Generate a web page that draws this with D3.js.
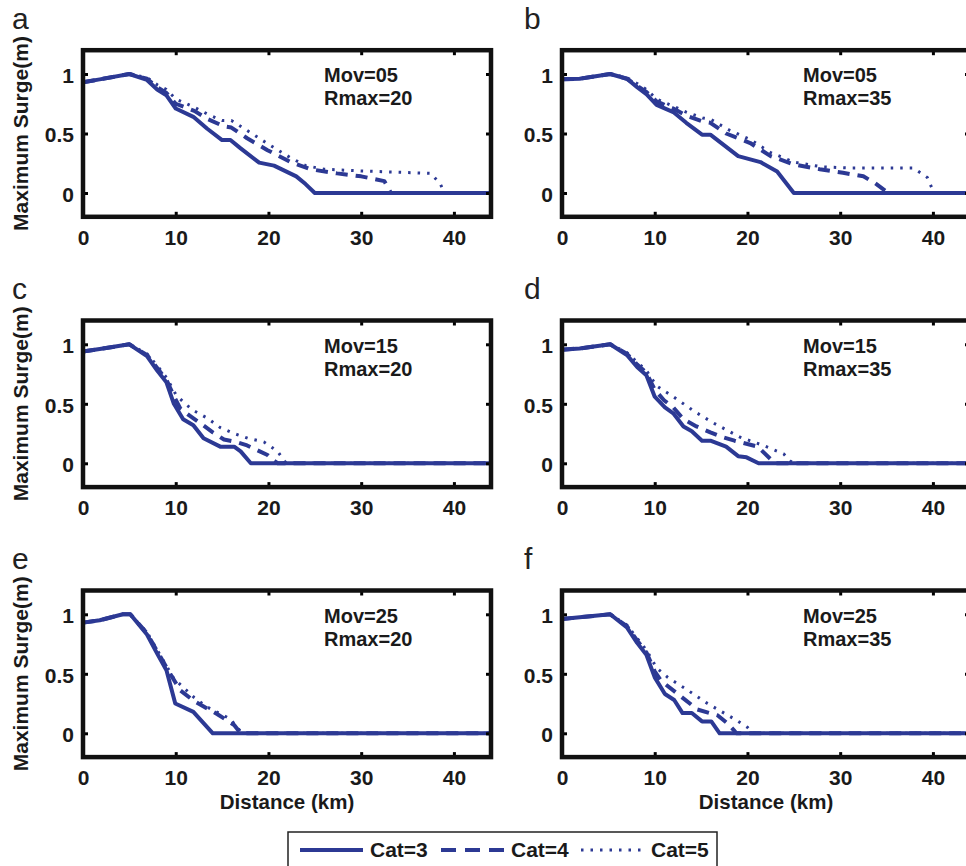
<!DOCTYPE html>
<html>
<head>
<meta charset="utf-8">
<script src="https://cdn.jsdelivr.net/npm/d3@7"></script>
<style>
  html, body { margin: 0; padding: 0; background: #fff; }
  svg { display: block; }
  text { font-family: "Liberation Sans", Arial, Helvetica, sans-serif; }
</style>
</head>
<body>
<svg id="chart" width="966" height="866"></svg>
<script>
// ---------------- DATA ----------------
const panelLetters = ["a", "b", "c", "d", "e", "f"];
const movLabels = ["Mov=05", "Mov=05", "Mov=15", "Mov=15", "Mov=25", "Mov=25"];
const rmaxLabels = ["Rmax=20", "Rmax=35", "Rmax=20", "Rmax=35", "Rmax=20", "Rmax=35"];
const categories = ["Cat=3", "Cat=4", "Cat=5"];
const xTicks = [0, 10, 20, 30, 40];
const yTicks = [0, 0.5, 1];
const yTickLabels = ["0", "0.5", "1"];
const xLabel = "Distance (km)";
const yLabel = "Maximum Surge(m)";

// [distance km, max surge m]
const a_cat3 = [[0,0.93],[1.8,0.955],[5,1.0],[6.9,0.95],[8,0.87],[9,0.82],[10,0.71],[11.9,0.64],[13.4,0.54],[15,0.445],[15.9,0.445],[17,0.375],[19,0.255],[20.6,0.23],[23,0.14],[24,0.075],[25,0],[44,0]];
const a_cat4 = [[0,0.93],[1.8,0.955],[5,1.0],[6.9,0.96],[8,0.89],[9,0.84],[10,0.75],[12,0.69],[13.5,0.62],[15.2,0.56],[16,0.55],[17.7,0.46],[19.9,0.36],[22.4,0.26],[24.5,0.2],[27.4,0.165],[30,0.14],[32.5,0.1],[33.2,0],[44,0]];
const a_cat5 = [[0,0.93],[1.8,0.955],[5,1.0],[6.9,0.97],[8,0.91],[9,0.87],[10,0.79],[12,0.72],[13.5,0.66],[15,0.61],[16,0.61],[18,0.51],[20,0.41],[22.3,0.3],[24,0.23],[26,0.2],[30,0.185],[34,0.175],[37.5,0.165],[38.5,0.08],[39,0],[44,0]];

const b_cat3 = [[0,0.955],[1.9,0.96],[5.2,1.0],[7,0.96],[8.1,0.89],[9.1,0.83],[10.2,0.74],[12,0.68],[13.4,0.59],[15.1,0.49],[16,0.49],[17.5,0.4],[19,0.31],[21.4,0.26],[23.2,0.18],[25,0],[44,0]];
const b_cat4 = [[0,0.955],[1.9,0.96],[5.2,1.0],[7,0.96],[8.1,0.9],[9.1,0.85],[10.2,0.77],[12,0.71],[13.4,0.65],[15.2,0.6],[16,0.59],[17.7,0.5],[20.3,0.42],[22.5,0.31],[25,0.24],[27.8,0.2],[30.3,0.17],[32.5,0.14],[33.8,0.08],[35.2,0],[44,0]];
const b_cat5 = [[0,0.955],[1.9,0.96],[5.2,1.0],[7,0.97],[8.1,0.92],[9.1,0.87],[10.2,0.79],[12,0.73],[13.4,0.68],[15.2,0.63],[16,0.62],[18,0.53],[20.3,0.45],[22.5,0.34],[25,0.26],[28,0.22],[31,0.21],[34.3,0.21],[37.9,0.21],[39.4,0.13],[39.9,0.04],[40.2,0],[44,0]];

const c_cat3 = [[0,0.94],[1.8,0.96],[5,1.0],[6.9,0.9],[8,0.78],[9,0.68],[9.8,0.5],[10.8,0.37],[11.9,0.32],[13,0.21],[14.8,0.14],[16.3,0.14],[17,0.1],[18.1,0],[44,0]];
const c_cat4 = [[0,0.94],[1.8,0.96],[5,1.0],[6.9,0.91],[8,0.8],[9,0.7],[9.9,0.55],[10.5,0.46],[11.5,0.4],[12.6,0.34],[14,0.26],[15.2,0.2],[16.5,0.18],[17.7,0.15],[19.9,0.07],[20.6,0.02],[21,0],[44,0]];
const c_cat5 = [[0,0.94],[1.8,0.96],[5,1.0],[6.9,0.92],[8,0.82],[9,0.72],[10,0.58],[11,0.5],[12,0.44],[13.4,0.38],[14.8,0.3],[16.3,0.25],[17.8,0.21],[19.5,0.18],[21,0.1],[21.7,0.02],[22,0],[44,0]];

const d_cat3 = [[0,0.955],[1.9,0.965],[5.2,1.0],[7,0.91],[8.1,0.81],[9.1,0.74],[10,0.56],[11.1,0.47],[12,0.42],[13.1,0.31],[14,0.27],[15.1,0.19],[16,0.19],[17.7,0.14],[19,0.06],[19.9,0.05],[21.2,0],[44,0]];
const d_cat4 = [[0,0.955],[1.9,0.965],[5.2,1.0],[7,0.92],[8.1,0.83],[9.1,0.76],[10,0.62],[11,0.53],[12,0.47],[13.1,0.37],[14.5,0.31],[16,0.26],[17.3,0.22],[18.6,0.19],[21.1,0.14],[22.7,0.02],[23,0],[44,0]];
const d_cat5 = [[0,0.955],[1.9,0.965],[5.2,1.0],[7,0.93],[8.1,0.85],[9.1,0.78],[10.2,0.65],[12,0.56],[14.2,0.44],[16.3,0.34],[19.2,0.22],[21.7,0.15],[23.9,0.08],[24.6,0.02],[25,0],[44,0]];

const e_cat3 = [[0,0.93],[1.8,0.95],[4.3,1.0],[5.1,1.0],[6.9,0.83],[8,0.67],[9,0.53],[9.95,0.25],[11.9,0.18],[14,0],[44,0]];
const e_cat4 = [[0,0.93],[1.8,0.95],[4.3,1.0],[5.1,1.0],[6.9,0.84],[8,0.69],[9.4,0.5],[10.5,0.36],[12,0.27],[14.5,0.16],[16.3,0.07],[17,0],[44,0]];
const e_cat5 = [[0,0.93],[1.8,0.95],[4.3,1.0],[5.1,1.0],[6.9,0.85],[8,0.7],[9.8,0.46],[12,0.3],[13.4,0.22],[15.9,0.12],[16.6,0.05],[17.2,0],[44,0]];

const f_cat3 = [[0,0.96],[5.2,1.0],[7,0.89],[8.1,0.76],[9.1,0.66],[10,0.47],[11.1,0.33],[12.1,0.28],[13,0.17],[14,0.17],[15.1,0.1],[16.1,0.1],[17,0],[44,0]];
const f_cat4 = [[0,0.96],[5.2,1.0],[7,0.9],[8.1,0.78],[9.1,0.68],[10,0.52],[10.7,0.44],[12.5,0.33],[14.6,0.2],[16.8,0.15],[17.9,0.08],[18.6,0.02],[18.8,0],[44,0]];
const f_cat5 = [[0,0.96],[5.2,1.0],[7,0.91],[8.1,0.8],[9.1,0.7],[10.2,0.55],[11.4,0.47],[13.6,0.36],[15.7,0.25],[18.6,0.12],[20,0.05],[20.6,0],[44,0]];

const seriesByPanel = [
  [a_cat3, a_cat4, a_cat5],
  [b_cat3, b_cat4, b_cat5],
  [c_cat3, c_cat4, c_cat5],
  [d_cat3, d_cat4, d_cat5],
  [e_cat3, e_cat4, e_cat5],
  [f_cat3, f_cat4, f_cat5]
];

// ---------------- LAYOUT / STYLE ----------------
const lineColor = "#2c3994";
const styles = [
  { width: 4, dash: null },
  { width: 4, dash: "12,8" },
  { width: 3, dash: "2.5,7" }
];
const colLeft = [83, 562];
const rowTop = [50.2, 320.5, 590.5];
const panelW = 408;
const panelH = 166.6;

const svg = d3.select("#chart");

seriesByPanel.forEach((series, i) => {
  const col = i % 2, row = Math.floor(i / 2);
  const left = colLeft[col], top = rowTop[row];
  const x = d3.scaleLinear().domain([0, 44]).range([left, left + panelW]);
  const y = d3.scaleLinear().domain([-0.2, 1.2]).range([top + panelH, top]);
  const g = svg.append("g");

  // lines: dotted, dashed, solid (solid on top)
  const line = d3.line().x(d => x(d[0])).y(d => y(d[1]));
  [2, 1, 0].forEach(k => {
    g.append("path")
      .datum(series[k])
      .attr("d", line)
      .attr("fill", "none")
      .attr("stroke", lineColor)
      .attr("stroke-width", styles[k].width)
      .attr("stroke-linejoin", "round")
      .attr("stroke-dasharray", styles[k].dash);
  });

  // axes with inward ticks
  const fmtY = d => yTickLabels[yTicks.indexOf(d)];
  const bottom = g.append("g").attr("transform", `translate(0,${top + panelH})`)
    .call(d3.axisBottom(x).tickValues(xTicks).tickSizeInner(-5).tickSizeOuter(0).tickPadding(13));
  const topAx = g.append("g").attr("transform", `translate(0,${top})`)
    .call(d3.axisTop(x).tickValues(xTicks).tickSizeInner(-5).tickSizeOuter(0).tickFormat(""));
  const leftAx = g.append("g").attr("transform", `translate(${left},0)`)
    .call(d3.axisLeft(y).tickValues(yTicks).tickSizeInner(-5).tickSizeOuter(0).tickPadding(9).tickFormat(fmtY));
  const rightAx = g.append("g").attr("transform", `translate(${left + panelW},0)`)
    .call(d3.axisRight(y).tickValues(yTicks).tickSizeInner(-5).tickSizeOuter(0).tickFormat(""));
  [bottom, topAx, leftAx, rightAx].forEach(a => {
    a.select(".domain").remove();
    a.selectAll(".tick line").attr("stroke", "#000").attr("stroke-width", 3);
    a.selectAll("text").attr("font-size", 21).attr("font-weight", "bold").attr("fill", "#1a1a1a")
      .attr("font-family", "'Liberation Sans', Arial, sans-serif");
  });
  leftAx.selectAll("text").attr("dy", "0.4em");

  // frame
  g.append("rect")
    .attr("x", left).attr("y", top)
    .attr("width", panelW).attr("height", panelH)
    .attr("fill", "none").attr("stroke", "#111").attr("stroke-width", 4.5);

  // annotations
  g.append("text").attr("x", left + 241).attr("y", top + 32)
    .attr("font-size", 20).attr("font-weight", "bold").attr("fill", "#1a1a1a").text(movLabels[i]);
  g.append("text").attr("x", left + 241).attr("y", top + 55)
    .attr("font-size", 20).attr("font-weight", "bold").attr("fill", "#1a1a1a").text(rmaxLabels[i]);

  // panel letter
  svg.append("text").attr("x", col === 0 ? 12 : 524).attr("y", 29 + row * 270)
    .attr("font-size", 30).attr("font-weight", "normal").attr("fill", "#222")
    .text(panelLetters[i]);

  // y label (left column)
  if (col === 0) {
    svg.append("text")
      .attr("transform", `translate(28,${top + panelH / 2}) rotate(-90)`)
      .attr("text-anchor", "middle")
      .attr("font-size", 21).attr("font-weight", "bold").attr("fill", "#1a1a1a")
      .text(yLabel);
  }
  // x label (bottom row)
  if (row === 2) {
    svg.append("text")
      .attr("x", left + panelW / 2).attr("y", top + panelH + 52)
      .attr("text-anchor", "middle")
      .attr("font-size", 20.5).attr("font-weight", "bold").attr("fill", "#1a1a1a")
      .text(xLabel);
  }
});

// ---------------- LEGEND ----------------
const leg = svg.append("g");
leg.append("rect").attr("x", 288).attr("y", 832).attr("width", 429).attr("height", 50)
  .attr("fill", "#fff").attr("stroke", "#222").attr("stroke-width", 1.5);
const legItems = [
  { x0: 300, x1: 363, tx: 370 },
  { x0: 441, x1: 504, tx: 511 },
  { x0: 581, x1: 641, tx: 651 }
];
categories.forEach((c, k) => {
  const it = legItems[k];
  leg.append("line").attr("x1", it.x0).attr("x2", it.x1).attr("y1", 850).attr("y2", 850)
    .attr("stroke", lineColor).attr("stroke-width", styles[k].width)
    .attr("stroke-dasharray", k === 1 ? "15,9" : styles[k].dash);
  leg.append("text").attr("x", it.tx).attr("y", 857)
    .attr("font-size", 21).attr("font-weight", "bold").attr("fill", "#1a1a1a").text(c);
});
</script>
</body>
</html>
